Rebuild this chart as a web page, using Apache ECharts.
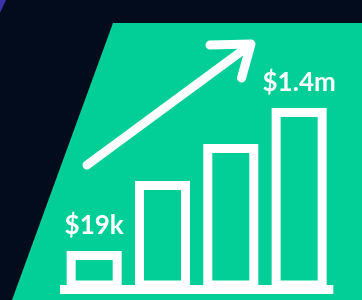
<!DOCTYPE html>
<html>
<head>
<meta charset="utf-8">
<style>
  html, body { margin: 0; padding: 0; background: #030c1d; }
  #chart { width: 362px; height: 300px; }
</style>
<script src="https://cdn.jsdelivr.net/npm/echarts@6/dist/echarts.min.js"></script>
</head>
<body>
<div id="chart"></div>
<script>
// Data
const categories = ['Stage 1', 'Stage 2', 'Stage 3', 'Stage 4'];
const barValues = [38.5, 108.5, 145.5, 181.5];
const barLabels = ['$19k', '', '', '$1.4m'];

const chart = echarts.init(document.getElementById('chart'), null, { renderer: 'canvas' });

const GREEN = '#01cf97';
const WHITE = '#ffffff';

const option = {
  backgroundColor: '#030c1d',
  animation: false,
  grid: { left: 60, right: 28.7, top: 89.5, bottom: 10.5, containLabel: false },
  xAxis: {
    type: 'category',
    data: categories,
    axisLine: { show: true, lineStyle: { color: WHITE, width: 9, cap: 'butt' } },
    axisTick: { show: false },
    axisLabel: { show: false },
    splitLine: { show: false }
  },
  yAxis: {
    type: 'value',
    min: 0,
    max: 200,
    show: false,
    splitLine: { show: false }
  },
  graphic: [
    {
      type: 'polygon',
      z: -10,
      silent: true,
      shape: { points: [[0, 0], [6, 0], [0, 13]] },
      style: { fill: '#3b31a8' }
    },
    {
      type: 'polygon',
      z: -10,
      silent: true,
      shape: { points: [[113, 23], [362, 23], [362, 300], [12, 300]] },
      style: { fill: GREEN }
    },
    {
      type: 'polyline',
      z: 100,
      silent: true,
      shape: { points: [[87, 165], [250, 45]] },
      style: { stroke: WHITE, lineWidth: 9, lineCap: 'round', lineJoin: 'round', fill: null }
    },
    {
      type: 'polyline',
      z: 100,
      silent: true,
      shape: { points: [[210, 45], [251, 44], [241.5, 78]] },
      style: { stroke: WHITE, lineWidth: 9, lineCap: 'round', lineJoin: 'round', fill: null }
    }
  ],
  series: [
    {
      type: 'bar',
      barWidth: 55,
      z: 5,
      data: barValues.map((v, i) => ({
        value: v,
        label: {
          show: barLabels[i] !== '',
          formatter: barLabels[i]
        }
      })),
      itemStyle: {
        color: GREEN,
        borderColor: WHITE,
        borderWidth: 9
      },
      label: {
        position: 'top',
        distance: 12,
        color: WHITE,
        fontFamily: 'Lato',
        fontWeight: 'bold',
        fontSize: 26
      }
    }
  ]
};

chart.setOption(option);
</script>
</body>
</html>
